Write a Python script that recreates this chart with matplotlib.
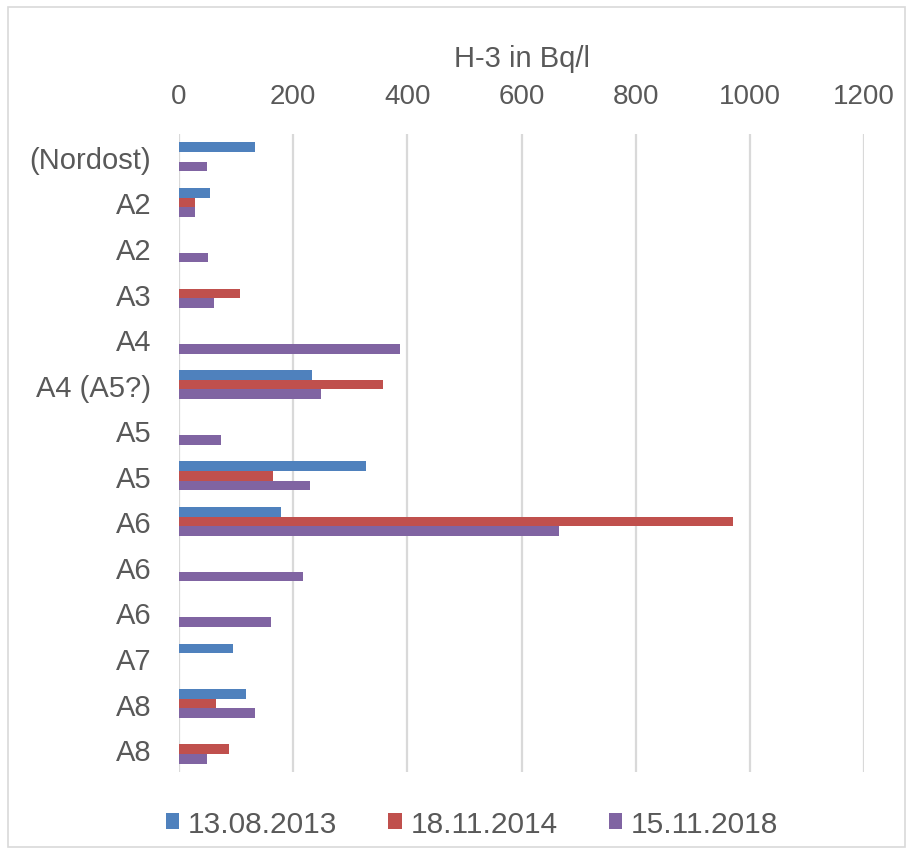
import numpy as np
import matplotlib.pyplot as plt
from matplotlib.patches import Rectangle

# Messstellen (von oben nach unten) und H-3-Werte je Probenahmedatum
stellen = ['(Nordost)', 'A2', 'A2', 'A3', 'A4', 'A4 (A5?)', 'A5', 'A5',
           'A6', 'A6', 'A6', 'A7', 'A8', 'A8']
werte_2013 = [133, 54, 0, 0, 0, 233, 0, 327, 178, 0, 0, 94, 118, 0]
werte_2014 = [0, 28, 0, 107, 0, 357, 0, 164, 971, 0, 0, 0, 64, 88]
werte_2018 = [49, 28, 51, 62, 387, 248, 73, 229, 666, 218, 161, 0, 133, 49]
daten = ['13.08.2013', '18.11.2014', '15.11.2018']
farben = ['#4F81BD', '#C0504D', '#8064A2']

plt.rcParams['font.family'] = ['Liberation Sans', 'DejaVu Sans']
grau = '#595959'

fig = plt.figure(figsize=(9.14, 8.62), dpi=100)
ax = fig.add_axes([179 / 914, 1 - 773 / 862, (864 - 179) / 914, (773 - 135) / 862])

y = np.arange(len(stellen))
h = 0.213
for i, (werte, farbe, datum) in enumerate(zip([werte_2013, werte_2014, werte_2018], farben, daten)):
    ax.barh(y + (i - 1) * h, werte, height=h, color=farbe, label=datum,
            linewidth=0)

ax.set_xlim(0, 1200)
ax.set_xticks(range(0, 1201, 200))
ax.set_ylim(len(stellen) - 0.5, -0.5)
ax.set_yticks(y)
ax.set_yticklabels(stellen)

ax.xaxis.tick_top()
ax.xaxis.set_label_position('top')
ax.set_xlabel('H-3 in Bq/l', fontsize=21, color=grau, labelpad=12)
ax.tick_params(axis='x', length=0, pad=18, labelsize=20, labelcolor=grau)
ax.tick_params(axis='y', length=0, pad=20, labelsize=21, labelcolor=grau)

ax.grid(axis='x', color='#D9D9D9', linewidth=1.6)
ax.set_axisbelow(True)
for s in ax.spines.values():
    s.set_visible(False)

ax.legend(loc='center', bbox_to_anchor=(472 / 914, 1 - 825 / 862),
          bbox_transform=fig.transFigure, ncol=3, frameon=False,
          fontsize=21.5, labelcolor=grau, handlelength=0.45, handleheight=0.45,
          handletextpad=0.3, columnspacing=1.7)

# Rahmen um den Diagrammbereich
fig.patches.append(Rectangle((8 / 914, 14 / 862), 897 / 914, 840 / 862,
                             transform=fig.transFigure, fill=False,
                             edgecolor='#D9D9D9', linewidth=1.2))

fig.savefig('out.png', dpi=100)
